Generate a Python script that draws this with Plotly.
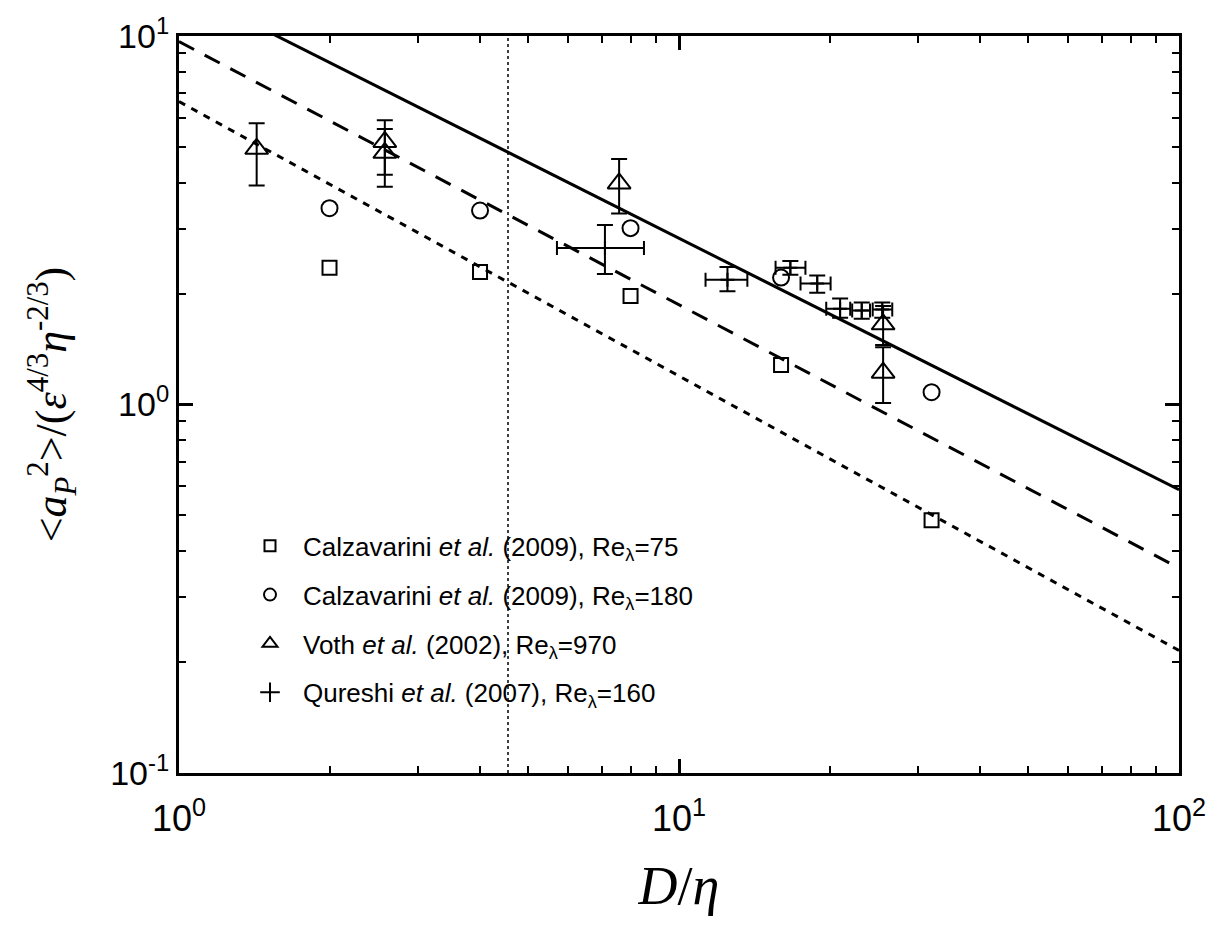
import plotly.graph_objects as go

# ---- data ----
# Calzavarini et al. (2009), Re=75
cal75_x = [2, 4, 8, 16, 32]
cal75_y = [2.35, 2.29, 1.97, 1.28, 0.485]
# Calzavarini et al. (2009), Re=180
cal180_x = [2, 4, 8, 16, 32]
cal180_y = [3.41, 3.36, 3.01, 2.21, 1.08]
# Voth et al. (2002), Re=970
voth_x = [1.43, 2.58, 2.58, 7.59, 25.6, 25.6]
voth_y = [4.94, 5.16, 4.82, 3.98, 1.65, 1.22]
voth_ylo = [3.93, 4.20, 3.90, 3.30, 1.45, 1.01]
voth_yhi = [5.80, 5.91, 5.59, 4.64, 1.85, 1.43]
# Qureshi et al. (2007), Re=160
qu_x = [7.11, 12.5, 16.7, 18.9, 21.0, 23.2, 25.5]
qu_y = [2.66, 2.18, 2.35, 2.13, 1.82, 1.80, 1.81]
qu_xlo = [5.70, 11.3, 15.6, 17.5, 19.7, 22.2, 24.4]
qu_xhi = [8.51, 13.7, 17.9, 20.1, 22.0, 24.1, 26.7]
qu_ylo = [2.26, 2.03, 2.25, 2.01, 1.72, 1.71, 1.72]
qu_yhi = [3.07, 2.36, 2.45, 2.24, 1.94, 1.89, 1.89]
# fit lines (values at D/eta = 1 and 100)
line_x = [1, 100]
solid_y = [13.6, 0.587]
dashed_y = [9.66, 0.360]
dotted_y = [6.64, 0.215]
# vertical reference line
vline_x = 4.55

fig = go.Figure()

LW = 2
fig.add_trace(go.Scatter(x=line_x, y=solid_y, mode="lines",
                         line=dict(color="black", width=3), showlegend=False))
fig.add_trace(go.Scatter(x=line_x, y=dashed_y, mode="lines",
                         line=dict(color="black", width=3, dash="17px,12px"), showlegend=False))
fig.add_trace(go.Scatter(x=line_x, y=dotted_y, mode="lines",
                         line=dict(color="black", width=3, dash="7px,7px"), showlegend=False))
fig.add_trace(go.Scatter(x=[vline_x, vline_x], y=[0.1, 10], mode="lines",
                         line=dict(color="black", width=1.5, dash="3px,3px"), showlegend=False))

fig.add_trace(go.Scatter(x=cal75_x, y=cal75_y, mode="markers", showlegend=False,
                         marker=dict(symbol="square-open", size=14, color="black", line=dict(width=LW))))
fig.add_trace(go.Scatter(x=cal180_x, y=cal180_y, mode="markers", showlegend=False,
                         marker=dict(symbol="circle-open", size=16, color="black", line=dict(width=LW))))
fig.add_trace(go.Scatter(
    x=voth_x, y=voth_y, mode="markers", showlegend=False,
    marker=dict(symbol="triangle-up-open", size=20, color="black", line=dict(width=LW)),
    error_y=dict(type="data", symmetric=False,
                 array=[h - v for h, v in zip(voth_yhi, voth_y)],
                 arrayminus=[v - l for l, v in zip(voth_ylo, voth_y)],
                 color="black", thickness=2, width=8)))
fig.add_trace(go.Scatter(
    x=qu_x, y=qu_y, mode="markers", showlegend=False,
    marker=dict(symbol="cross-thin-open", size=10, color="black", line=dict(width=2, color="black")),
    error_y=dict(type="data", symmetric=False,
                 array=[h - v for h, v in zip(qu_yhi, qu_y)],
                 arrayminus=[v - l for l, v in zip(qu_ylo, qu_y)],
                 color="black", thickness=2, width=8),
    error_x=dict(type="data", symmetric=False,
                 array=[h - v for h, v in zip(qu_xhi, qu_x)],
                 arrayminus=[v - l for l, v in zip(qu_xlo, qu_x)],
                 color="black", thickness=2, width=7)))

# legend-only entries
leg = [
    ("square-open", 11, "Calzavarini <i>et al.</i> (2009), Re<sub>λ</sub>=75"),
    ("circle-open", 12, "Calzavarini <i>et al.</i> (2009), Re<sub>λ</sub>=180"),
    ("triangle-up-open", 13, "Voth <i>et al.</i> (2002), Re<sub>λ</sub>=970"),
    ("cross-thin-open", 14, "Qureshi <i>et al.</i> (2007), Re<sub>λ</sub>=160"),
]
for i, (sym, sz, name) in enumerate(leg):
    fig.add_trace(go.Scatter(x=[None], y=[None], mode="markers", name=name,
                             legendgroup=f"g{i}",
                             marker=dict(symbol=sym, size=sz, color="black",
                                         line=dict(width=2, color="black"))))

minor_x = [m * 10 ** e for e in range(0, 2) for m in range(2, 10)]
minor_y = [m * 10 ** e for e in range(-1, 1) for m in range(2, 10)]

axis_common = dict(showgrid=False, zeroline=False, showline=True, linecolor="black",
                   linewidth=3, mirror="allticks", ticks="inside", ticklen=14,
                   tickwidth=2.5, tickcolor="black")

fig.update_layout(
    width=1225, height=934,
    paper_bgcolor="white", plot_bgcolor="white",
    margin=dict(l=179, r=46, t=29, b=161),
    font=dict(family="Liberation Sans, Arial, sans-serif", color="black"),
    xaxis=dict(type="log", range=[0, 2],
               tickvals=[1, 10, 100],
               ticktext=["10<sup>0</sup>", "10<sup>1</sup>", "10<sup>2</sup>"],
               tickfont=dict(size=36), ticklabelstandoff=12,
               minor=dict(tickvals=minor_x, ticks="inside", ticklen=7, tickwidth=2, tickcolor="black"),
               title=dict(text="<i>D</i>/<i>η</i>", font=dict(family="Liberation Serif, serif", size=54),
                          standoff=28),
               **axis_common),
    yaxis=dict(type="log", range=[-1, 1],
               tickvals=[0.1, 1, 10],
               ticktext=["10<sup>-1</sup>", "10<sup>0</sup>", "10<sup>1</sup>"],
               tickfont=dict(size=34),
               minor=dict(tickvals=minor_y, ticks="inside", ticklen=7, tickwidth=2, tickcolor="black"),
               title=dict(text="&lt;<i>a</i><sub><i>P</i></sub><sup>2</sup>&gt;/(<i>ε</i><sup>4/3</sup><i>η</i><sup>-2/3</sup>)",
                          font=dict(family="Liberation Serif, serif", size=44), standoff=30),
               **axis_common),
    legend=dict(x=0.058, y=0.34, xanchor="left", yanchor="top",
                bgcolor="rgba(0,0,0,0)", font=dict(size=26),
                tracegroupgap=12, itemwidth=56, itemsizing="trace"),
    showlegend=True,
)

fig.write_html("out.html")
